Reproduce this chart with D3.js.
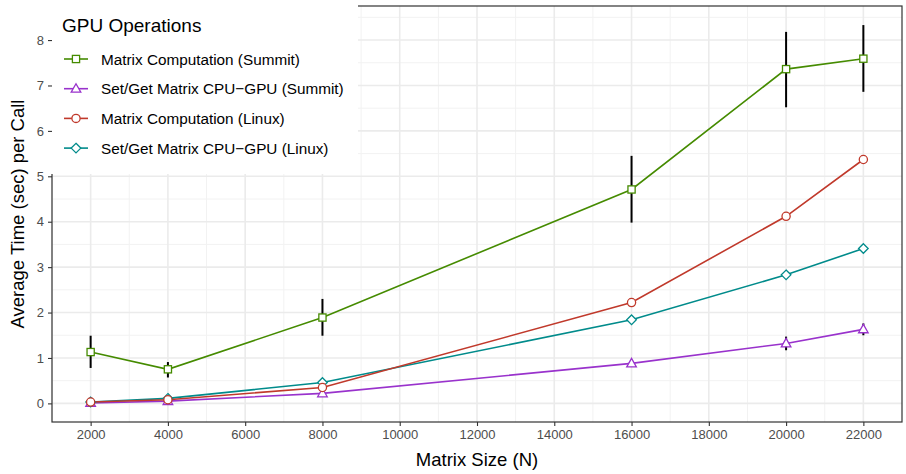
<!DOCTYPE html>
<html><head><meta charset="utf-8">
<script src="https://cdn.jsdelivr.net/npm/d3@7"></script>
<style>body{margin:0;background:#fff}svg{display:block}text{font-family:"Liberation Sans",Arial,sans-serif}</style>
</head><body><svg id="c" width="906" height="474"></svg>
<script>
const sizes = [2000, 4000, 8000, 16000, 20000, 22000];
const seriesNames = ["Matrix Computation (Summit)", "Set/Get Matrix CPU\u2212GPU (Summit)", "Matrix Computation (Linux)", "Set/Get Matrix CPU\u2212GPU (Linux)"];
const summitComp = [1.13, 0.75, 1.89, 4.71, 7.36, 7.59];
const summitCompLo = [0.78, 0.57, 1.49, 3.98, 6.52, 6.86];
const summitCompHi = [1.49, 0.91, 2.30, 5.45, 8.18, 8.33];
const summitSet = [0.01, 0.05, 0.22, 0.88, 1.32, 1.63];
const summitSetLo = [0.0, 0.03, 0.19, 0.82, 1.17, 1.50];
const summitSetHi = [0.02, 0.07, 0.25, 0.94, 1.47, 1.76];
const linuxComp = [0.03, 0.08, 0.35, 2.22, 4.12, 5.37];
const linuxSet = [0.03, 0.11, 0.46, 1.84, 2.83, 3.41];
const xTicks = [2000, 4000, 6000, 8000, 10000, 12000, 14000, 16000, 18000, 20000, 22000];
const yTicks = [0, 1, 2, 3, 4, 5, 6, 7, 8];
const colors = ["#458B00", "#9932CC", "#C0392B", "#008B8B"];
const shapes = ["square", "triangle", "circle", "diamond"];

const svg = d3.select("#c");
const L = 52, R = 902, T = 6, B = 422;
const x = d3.scaleLinear().domain([1000, 23000]).range([L, R]);
const y = d3.scaleLinear().domain([-0.41, 8.75]).range([B, T]);

// grid
const g = svg.append("g");
const xMinor = d3.range(3000, 23000, 2000).concat([1000]);
const yMinor = d3.range(-0.5, 9, 1).filter(v => v > -0.41 && v < 8.75);
g.selectAll(".xm").data(xMinor).join("line").attr("x1", d => x(d)).attr("x2", d => x(d)).attr("y1", T).attr("y2", B).attr("stroke", "#F2F2F2").attr("stroke-width", 1);
g.selectAll(".ym").data(yMinor).join("line").attr("x1", L).attr("x2", R).attr("y1", d => y(d)).attr("y2", d => y(d)).attr("stroke", "#F2F2F2").attr("stroke-width", 1);
g.selectAll(".xM").data(xTicks).join("line").attr("x1", d => x(d)).attr("x2", d => x(d)).attr("y1", T).attr("y2", B).attr("stroke", "#EBEBEB").attr("stroke-width", 1.6);
g.selectAll(".yM").data(yTicks).join("line").attr("x1", L).attr("x2", R).attr("y1", d => y(d)).attr("y2", d => y(d)).attr("stroke", "#EBEBEB").attr("stroke-width", 1.6);

// error bars
function errs(lo, hi) {
  svg.append("g").selectAll("line").data(sizes).join("line")
    .attr("x1", d => x(d)).attr("x2", d => x(d))
    .attr("y1", (d, i) => y(lo[i])).attr("y2", (d, i) => y(hi[i]))
    .attr("stroke", "#000").attr("stroke-width", 2);
}
errs(summitCompLo, summitCompHi);
errs(summitSetLo, summitSetHi);

const data = [summitComp, summitSet, linuxComp, linuxSet];
const order = [0, 1, 3, 2];
const line = d3.line().x(d => x(d[0])).y(d => y(d[1]));
function marker(sel, shape, color, cx, cy) {
  if (shape === "square") sel.append("rect").attr("x", cx - 3.6).attr("y", cy - 3.6).attr("width", 7.2).attr("height", 7.2);
  else if (shape === "circle") sel.append("circle").attr("cx", cx).attr("cy", cy).attr("r", 4.1);
  else if (shape === "triangle") sel.append("path").attr("d", `M${cx},${cy - 5}L${cx + 4.8},${cy + 3.4}L${cx - 4.8},${cy + 3.4}Z`);
  else sel.append("path").attr("d", `M${cx},${cy - 4.8}L${cx + 4.8},${cy}L${cx},${cy + 4.8}L${cx - 4.8},${cy}Z`);
  sel.selectAll(":last-child").attr("fill", "#fff").attr("stroke", color).attr("stroke-width", 1.3);
}
order.forEach(k => {
  const pts = sizes.map((s, i) => [s, data[k][i]]);
  svg.append("path").datum(pts).attr("d", line).attr("fill", "none").attr("stroke", colors[k]).attr("stroke-width", 1.6);
});
order.forEach(k => {
  const gg = svg.append("g");
  sizes.forEach((s, i) => marker(gg, shapes[k], colors[k], x(s), y(data[k][i])));
});

// panel border
svg.append("rect").attr("x", L).attr("y", T).attr("width", R - L).attr("height", B - T).attr("fill", "none").attr("stroke", "#333333").attr("stroke-width", 1.2);

// legend box
svg.append("rect").attr("x", 51).attr("y", 0).attr("width", 307).attr("height", 174).attr("fill", "#fff");
svg.append("text").attr("x", 62).attr("y", 32).attr("font-size", 19).attr("fill", "#000").text("GPU Operations");
seriesNames.forEach((n, k) => {
  const cy = 59 + k * 29.7;
  const lg = svg.append("g");
  lg.append("line").attr("x1", 64).attr("x2", 88).attr("y1", cy).attr("y2", cy).attr("stroke", colors[k]).attr("stroke-width", 1.6);
  marker(lg, shapes[k], colors[k], 76, cy);
  svg.append("text").attr("x", 101).attr("y", cy).attr("dy", "0.36em").attr("font-size", 15.3).attr("fill", "#000").text(n);
});

// axes
const xa = svg.append("g").attr("transform", `translate(0,${B})`).call(d3.axisBottom(x).tickValues(xTicks).tickSize(4).tickPadding(4).tickFormat(d3.format("d")));
const ya = svg.append("g").attr("transform", `translate(${L},0)`).call(d3.axisLeft(y).tickValues(yTicks).tickSize(4).tickPadding(4));
[xa, ya].forEach(a => {
  a.select(".domain").remove();
  a.selectAll(".tick line").attr("stroke", "#333333").attr("stroke-width", 1.1);
  a.selectAll(".tick text").attr("fill", "#4D4D4D").attr("font-size", 13).attr("font-family", "Liberation Sans, Arial, sans-serif");
});
svg.append("text").attr("x", (L + R) / 2).attr("y", 466).attr("text-anchor", "middle").attr("font-size", 18.5).attr("fill", "#000").text("Matrix Size (N)");
svg.append("text").attr("transform", `translate(24,${(T + B) / 2}) rotate(-90)`).attr("text-anchor", "middle").attr("font-size", 18.5).attr("fill", "#000").text("Average Time (sec) per Call");
</script></body></html>
